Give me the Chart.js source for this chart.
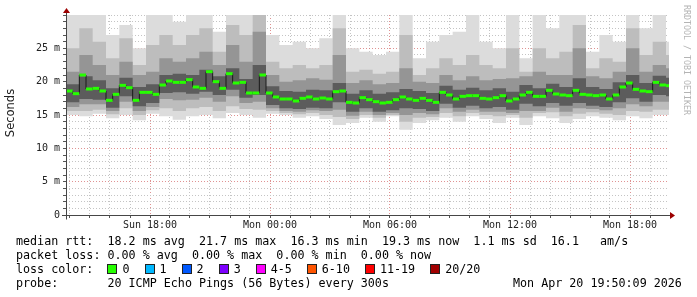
<!DOCTYPE html>
<html>
<head>
<meta charset="utf-8">
<title>SmokePing</title>
<script src="https://cdn.jsdelivr.net/npm/chart.js@4.4.1/dist/chart.umd.min.js"></script>
<style>
  body { margin: 0; background: #fff; }
  #wrap { position: relative; width: 697px; height: 297px; overflow: hidden; background: #fff; }
  #wrap canvas { position: absolute; left: 0; top: 0; }
  .line { position: absolute; left: 16px; height: 14px; font-family: 'DejaVu Sans Mono', monospace; font-size: 11.7px; line-height: 14px; color: #000; white-space: pre; }
  #date { left: 513px; }
  #lossItems i { font-style: normal; display: inline-block; margin-right: 15px; }
  #lossItems b { display: inline-block; width: 8px; height: 8px; border: 1px solid #222; margin-right: 5px; vertical-align: -1px; }
</style>
</head>
<body>
<div id="wrap">
  <canvas id="chart" width="697" height="297"></canvas>
  <div class="line" style="top:234px">median rtt:  18.2 ms avg  21.7 ms max  16.3 ms min  19.3 ms now  1.1 ms sd  16.1   am/s</div>
  <div class="line" style="top:248px">packet loss: 0.00 % avg  0.00 % max  0.00 % min  0.00 % now</div>
  <div class="line" style="top:262px">loss color:  <span id="lossItems"></span></div>
  <div class="line" style="top:276px">probe:       20 ICMP Echo Pings (56 Bytes) every 300s</div>
  <div class="line" id="date" style="top:276px">Mon Apr 20 19:50:09 2026</div>
</div>
<script>
// time axis in hours since Sun 00:00, graph starts Sun 13:48
const startHour = 13.8;
const endHour = 43.95;
const medianStepH = 1 / 3;   // 20 min
const smokeStepH = 2 / 3;    // 40 min

const hourTicks = [18, 24, 30, 36, 42];
const hourLabels = ['Sun 18:00', 'Mon 00:00', 'Mon 06:00', 'Mon 12:00', 'Mon 18:00'];
const yTicks = [0, 5, 10, 15, 20, 25];
const yLabels = ['0', '5 m', '10 m', '15 m', '20 m', '25 m'];

const lossLabels = ['0', '1', '2', '3', '4-5', '6-10', '11-19', '20/20'];
const lossColors = ['#26ff00', '#00b8ff', '#0059ff', '#7e00ff', '#ff00ff', '#ff5500', '#ff0000', '#a10000'];

// median rtt (ms), one value per 20 minutes
const median = [
  18.6, 18.2, 21.0, 18.9, 19.0, 18.6, 17.2, 18.1, 19.45, 19.1,
  17.2, 18.4, 18.4, 18.1, 19.5, 20.1, 19.9, 19.9, 20.3, 19.2,
  19.0, 21.5, 20.0, 19.0, 21.2, 19.8, 19.9, 18.3, 18.3, 21.0,
  18.3, 17.7, 17.4, 17.4, 17.1, 17.5, 17.7, 17.4, 17.55, 17.4,
  18.5, 18.6, 16.9, 16.8, 17.6, 17.3, 17.0, 16.8, 16.9, 17.3,
  17.7, 17.4, 17.2, 17.5, 17.2, 16.9, 18.4, 18.0, 17.4, 17.8,
  17.9, 17.9, 17.5, 17.4, 17.6, 17.9, 17.1, 17.4, 18.0, 18.4,
  17.8, 17.8, 18.7, 18.15, 18.0, 17.9, 18.7, 18.1, 18.0, 17.9,
  18.0, 17.4, 18.0, 19.2, 19.8, 18.85, 18.6, 18.5, 19.9, 19.5,
  19.4
];

// smoke bands (ms), one value per 40 minutes, outermost first
const smokeMax = [30, 30, 30, 27, 28.5, 25, 30, 30, 29, 30, 30, 27.5, 30, 30, 30, 27, 25.5, 26, 25, 26.5,
  30, 25, 24.5, 24, 24.5, 30, 23.5, 26, 27, 27.5, 30, 26, 25, 30, 23.5, 30, 28, 30, 30, 24.5, 27, 26, 30, 28, 30, 26];
const smokeMin = [15.0, 14.8, 15.2, 14.5, 15.0, 14.2, 15.2, 14.8, 14.3, 14.8, 15.0, 14.5, 15.3, 15.0, 14.6, 15.2, 15.0, 14.6, 14.8, 14.4,
  13.5, 13.8, 14.6, 14.0, 14.8, 12.8, 13.8, 14.2, 14.6, 14.0, 14.8, 14.4, 13.8, 14.6, 13.5, 14.8, 14.5, 13.8, 14.4, 14.8, 14.6, 14.2, 14.8, 14.5, 15.0, 15.0];
const smokeHi2 = [25.0, 28.0, 26.0, 23.5, 26.5, 22.5, 25.5, 27.0, 25.5, 27.0, 28.0, 24.5, 28.5, 27.0, 30.0, 23.0, 22.0, 22.5, 22.0, 22.5,
  28.0, 21.5, 21.8, 21.2, 21.5, 27.0, 21.0, 22.0, 23.5, 22.5, 24.0, 22.5, 22.0, 25.0, 21.5, 25.0, 23.5, 24.5, 28.5, 22.0, 23.5, 23.0, 28.0, 24.0, 26.0, 24.0];
const smokeLo2 = [15.6, 15.6, 15.8, 15.1, 16.0, 15.0, 15.7, 16.0, 15.6, 16.0, 16.2, 15.6, 16.3, 15.9, 15.8, 15.6, 15.3, 15.1, 15.3, 15.0,
  14.7, 14.4, 15.0, 14.6, 15.0, 14.0, 14.6, 14.7, 15.3, 14.8, 15.3, 15.0, 14.8, 15.0, 14.6, 15.3, 15.4, 14.8, 15.2, 15.4, 15.2, 15.0, 15.6, 15.5, 15.8, 15.8];
const smokeHi3 = [21.5, 24.0, 22.5, 21.0, 23.0, 21.0, 21.5, 23.5, 23.0, 23.5, 24.5, 22.5, 25.5, 23.0, 27.5, 21.0, 20.0, 20.2, 20.5, 20.3,
  24.0, 19.8, 20.2, 19.6, 19.8, 22.0, 20.0, 19.8, 21.0, 20.2, 20.8, 20.2, 20.4, 20.5, 20.8, 21.5, 21.0, 21.0, 25.0, 20.8, 20.5, 21.5, 25.0, 21.5, 22.5, 22.0];
const smokeLo3 = [16.2, 16.6, 16.6, 15.6, 17.0, 15.6, 16.2, 17.4, 17.2, 17.3, 17.6, 17.0, 17.8, 16.8, 17.0, 16.0, 15.6, 15.5, 15.7, 15.6,
  15.8, 14.9, 15.5, 15.0, 15.3, 15.0, 15.3, 15.1, 16.0, 15.5, 15.8, 15.5, 15.5, 15.3, 15.6, 15.6, 16.1, 15.5, 16.0, 15.9, 15.7, 16.0, 16.6, 16.3, 17.0, 17.0];
const smokeHi4 = [19.6, 20.8, 20.2, 19.0, 20.6, 19.2, 19.6, 21.0, 21.2, 21.0, 21.8, 20.8, 22.0, 20.4, 22.5, 19.3, 18.6, 18.5, 18.8, 18.7,
  19.8, 18.2, 18.7, 18.2, 18.4, 18.9, 18.6, 18.3, 19.4, 18.8, 19.1, 18.7, 19.0, 18.5, 19.5, 19.0, 19.7, 19.2, 20.5, 19.2, 18.9, 19.9, 21.0, 19.8, 20.9, 20.6];
const smokeLo4 = [16.9, 17.4, 17.3, 16.1, 17.8, 16.3, 16.8, 18.3, 18.4, 18.2, 18.5, 18.0, 18.8, 17.6, 18.0, 16.5, 16.0, 15.9, 16.1, 16.0,
  16.9, 15.5, 16.0, 15.5, 15.7, 16.0, 15.9, 15.6, 16.7, 16.1, 16.4, 16.0, 16.2, 15.8, 16.7, 16.3, 16.8, 16.4, 16.8, 16.4, 16.2, 16.9, 17.5, 17.0, 18.0, 17.8];

const majorGrid = 'rgba(214, 110, 110, 0.75)';
const minorGrid = '#c4c4c4';

// legend boxes
const lossBox = document.getElementById('lossItems');
lossLabels.forEach((lbl, i) => {
  const b = document.createElement('b');
  b.style.background = lossColors[i];
  const t = document.createElement('i');
  t.textContent = lbl;
  lossBox.appendChild(b);
  lossBox.appendChild(t);
});

// a value holds from its time until the next one
function stepPoints(vals, step) {
  const pts = vals.map((v, k) => ({ x: startHour + k * step, y: v }));
  pts.push({ x: startHour + vals.length * step, y: vals[vals.length - 1] });
  return pts;
}

function bandLine(vals, color, order, fill) {
  return {
    data: stepPoints(vals, smokeStepH),
    stepped: true,
    borderWidth: 0,
    borderColor: 'rgba(0,0,0,0)',
    backgroundColor: color,
    pointRadius: 0,
    fill: fill,
    order: order
  };
}

const rrdDecor = {
  id: 'rrdDecor',
  afterDraw(chart) {
    const { ctx, chartArea: a, scales } = chart;
    const y0 = Math.round(scales.y.getPixelForValue(0)) + 0.5;
    const x0 = Math.round(a.left) + 0.5;
    ctx.save();
    ctx.strokeStyle = '#464646';
    ctx.lineWidth = 1;
    ctx.beginPath();
    ctx.moveTo(a.left - 4, y0);
    ctx.lineTo(a.right + 1, y0);
    ctx.moveTo(x0, y0 + 4);
    ctx.lineTo(x0, a.top - 2);
    ctx.stroke();
    // arrow heads
    ctx.fillStyle = '#9c0000';
    ctx.beginPath();
    ctx.moveTo(x0 - 3.5, a.top - 2);
    ctx.lineTo(x0 + 3.5, a.top - 2);
    ctx.lineTo(x0, a.top - 7);
    ctx.closePath();
    ctx.fill();
    ctx.beginPath();
    ctx.moveTo(a.right + 1, y0 - 3.5);
    ctx.lineTo(a.right + 1, y0 + 3.5);
    ctx.lineTo(a.right + 6, y0);
    ctx.closePath();
    ctx.fill();
    // axis title
    ctx.fillStyle = '#222';
    ctx.font = '11.5px "DejaVu Sans", sans-serif';
    ctx.textAlign = 'center';
    ctx.textBaseline = 'middle';
    ctx.translate(11, 113);
    ctx.rotate(-Math.PI / 2);
    ctx.fillText('Seconds', 0, 0);
    ctx.restore();
    // watermark
    ctx.save();
    ctx.fillStyle = '#b4b4b4';
    ctx.font = '8.3px "DejaVu Sans Mono", monospace';
    ctx.textAlign = 'center';
    ctx.textBaseline = 'middle';
    ctx.translate(686, 60);
    ctx.rotate(Math.PI / 2);
    ctx.fillText('RRDTOOL / TOBI OETIKER', 0, 0);
    ctx.restore();
  }
};

new Chart(document.getElementById('chart'), {
  type: 'line',
  data: {
    datasets: [
      bandLine(smokeMin, '#dcdcdc', 40, false),
      bandLine(smokeMax, '#dcdcdc', 39, '-1'),
      bandLine(smokeLo2, '#bdbdbd', 38, false),
      bandLine(smokeHi2, '#bdbdbd', 37, '-1'),
      bandLine(smokeLo3, '#959595', 36, false),
      bandLine(smokeHi3, '#959595', 35, '-1'),
      bandLine(smokeLo4, '#5c5c5c', 34, false),
      bandLine(smokeHi4, '#5c5c5c', 33, '-1'),
      {
        data: stepPoints(median, medianStepH),
        stepped: true,
        borderColor: '#1a1a1a',
        borderWidth: 1,
        pointRadius: 0,
        fill: false,
        order: 2
      },
      {
        data: median.map((v, i) => ({ x: startHour + (i + 0.5) * medianStepH, y: v })),
        showLine: false,
        pointStyle: 'line',
        pointRadius: 3.3,
        pointBorderWidth: 3,
        pointBorderColor: lossColors[0],
        borderColor: lossColors[0],
        order: 1
      }
    ]
  },
  options: {
    responsive: false,
    animation: false,
    devicePixelRatio: 1,
    layout: { padding: { top: 15, right: 28, left: 0, bottom: 0 } },
    plugins: { legend: { display: false }, tooltip: { enabled: false } },
    events: [],
    scales: {
      x: {
        type: 'linear',
        min: startHour,
        max: endHour,
        z: 1,
        afterFit: s => { s.height = 82; },
        border: { display: false, dash: [1, 2] },
        grid: {
          color: c => (c.tick && hourTicks.includes(c.tick.value)) ? majorGrid : minorGrid,
          tickColor: '#555',
          tickLength: 3
        },
        ticks: {
          stepSize: 1,
          maxTicksLimit: 100,
          autoSkip: false,
          maxRotation: 0,
          includeBounds: false,
          padding: 1,
          color: '#222',
          font: { family: 'DejaVu Sans Mono', size: 10 },
          callback: v => { const i = hourTicks.indexOf(v); return i < 0 ? '' : hourLabels[i]; }
        }
      },
      y: {
        min: 0,
        max: 30,
        z: 1,
        afterFit: s => { s.width = 66; },
        border: { display: false, dash: [1, 2] },
        grid: {
          color: c => (c.tick && yTicks.includes(c.tick.value) && c.tick.value > 0) ? majorGrid : minorGrid,
          tickColor: '#555',
          tickLength: 3
        },
        ticks: {
          stepSize: 1,
          maxTicksLimit: 100,
          autoSkip: false,
          padding: 3,
          color: '#222',
          font: { family: 'DejaVu Sans Mono', size: 10 },
          callback: v => { const i = yTicks.indexOf(v); return i < 0 ? '' : yLabels[i]; }
        }
      }
    }
  },
  plugins: [rrdDecor]
});
</script>
</body>
</html>
